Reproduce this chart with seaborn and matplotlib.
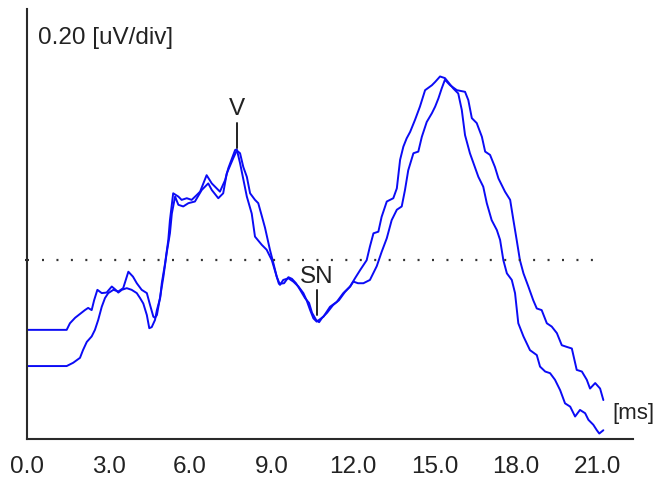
import numpy as np
import pandas as pd
import matplotlib
matplotlib.use("Agg")
import matplotlib.pyplot as plt
import seaborn as sns

# ---- data (time in ms, amplitude in uV) ----
time_a = [0.00, 1.46, 1.58, 1.77, 1.95, 2.13, 2.25, 2.38, 2.47, 2.59, 2.75, 2.93, 3.12, 3.24, 3.36, 3.49,
          3.67, 3.85, 4.04, 4.16, 4.28, 4.41, 4.50, 4.59, 4.71, 4.78, 4.90, 4.96, 5.08, 5.20, 5.26, 5.38,
          5.57, 5.69, 5.88, 6.06, 6.25, 6.37, 6.61, 6.80, 6.92, 7.10, 7.29, 7.41, 7.66, 7.72, 7.84, 8.09,
          8.27, 8.39, 8.64, 8.82, 9.01, 9.19, 9.31, 9.43, 9.62, 9.80, 9.99, 10.17, 10.29, 10.42, 10.54, 10.66,
          10.91, 11.15, 11.40, 11.64, 11.89, 12.07, 12.26, 12.50, 12.62, 12.75, 12.93, 13.05, 13.24, 13.48,
          13.61, 13.73, 13.85, 13.97, 14.10, 14.28, 14.46, 14.65, 14.90, 15.02, 15.20, 15.38, 15.69, 15.87,
          16.00, 16.12, 16.30, 16.43, 16.61, 16.79, 16.92, 17.10, 17.29, 17.41, 17.53, 17.66, 17.84, 17.96,
          18.08, 18.27, 18.51, 18.76, 18.88, 19.07, 19.25, 19.43, 19.62, 19.80, 19.99, 20.17, 20.35, 20.54,
          20.66, 20.84, 20.97, 21.06, 21.21]
amp_a = [0.199, 0.199, 0.211, 0.221, 0.228, 0.235, 0.239, 0.235, 0.253, 0.272, 0.266, 0.267, 0.278, 0.273, 0.267, 0.272,
         0.275, 0.272, 0.266, 0.257, 0.247, 0.226, 0.202, 0.204, 0.217, 0.235, 0.257, 0.284, 0.320, 0.363, 0.399, 0.448,
         0.442, 0.436, 0.439, 0.436, 0.445, 0.451, 0.481, 0.466, 0.460, 0.451, 0.472, 0.494, 0.527, 0.528, 0.503, 0.442,
         0.411, 0.369, 0.354, 0.345, 0.326, 0.296, 0.281, 0.290, 0.293, 0.287, 0.278, 0.266, 0.253, 0.235, 0.220, 0.214,
         0.223, 0.241, 0.250, 0.266, 0.278, 0.293, 0.308, 0.326, 0.351, 0.375, 0.378, 0.405, 0.433, 0.439,
         0.457, 0.509, 0.533, 0.548, 0.560, 0.582, 0.606, 0.636, 0.645, 0.651, 0.661, 0.658, 0.639, 0.630,
         0.600, 0.554, 0.521, 0.503, 0.478, 0.460, 0.430, 0.399, 0.381, 0.363, 0.326, 0.302, 0.290, 0.266,
         0.211, 0.187, 0.162, 0.153, 0.132, 0.123, 0.120, 0.108, 0.089, 0.065, 0.059, 0.041, 0.053, 0.047,
         0.035, 0.026, 0.016, 0.010, 0.016]

time_b = [0.00, 1.46, 1.70, 1.95, 2.06, 2.20, 2.38, 2.50, 2.62, 2.75, 2.87, 2.99, 3.18, 3.36, 3.54, 3.73,
          3.90, 4.04, 4.22, 4.41, 4.53, 4.65, 4.71, 4.78, 4.90, 5.02, 5.14, 5.26, 5.33, 5.45, 5.57, 5.75,
          5.94, 6.18, 6.43, 6.67, 6.80, 7.04, 7.22, 7.35, 7.59, 7.72, 7.84, 7.96, 8.09, 8.21, 8.39, 8.51,
          8.65, 8.76, 8.94, 9.07, 9.19, 9.27, 9.46, 9.62, 9.75, 9.90, 10.05, 10.23, 10.38, 10.49, 10.64, 10.75,
          10.86, 11.04, 11.26, 11.48, 11.70, 11.89, 12.01, 12.18, 12.38, 12.62, 12.87, 13.05, 13.24, 13.42,
          13.61, 13.79, 13.91, 14.03, 14.22, 14.40, 14.53, 14.71, 14.90, 15.02, 15.14, 15.26, 15.38, 15.57,
          15.82, 16.12, 16.24, 16.37, 16.55, 16.74, 16.86, 17.04, 17.22, 17.35, 17.59, 17.78, 17.90, 18.02,
          18.14, 18.27, 18.45, 18.63, 18.76, 18.94, 19.13, 19.31, 19.50, 19.68, 19.86, 20.05, 20.23, 20.42,
          20.60, 20.72, 20.91, 21.09, 21.21]
amp_b = [0.133, 0.133, 0.139, 0.148, 0.162, 0.177, 0.187, 0.199, 0.217, 0.241, 0.257, 0.266, 0.272, 0.269, 0.275, 0.305,
         0.296, 0.284, 0.272, 0.266, 0.244, 0.223, 0.221, 0.226, 0.259, 0.296, 0.339, 0.375, 0.411, 0.442, 0.427, 0.424,
         0.430, 0.433, 0.454, 0.466, 0.454, 0.439, 0.448, 0.484, 0.512, 0.526, 0.521, 0.496, 0.478, 0.448, 0.436, 0.430,
         0.405, 0.385, 0.345, 0.320, 0.296, 0.283, 0.284, 0.295, 0.292, 0.284, 0.272, 0.257, 0.248, 0.230, 0.217, 0.213,
         0.221, 0.230, 0.244, 0.253, 0.268, 0.278, 0.287, 0.284, 0.284, 0.290, 0.315, 0.341, 0.366, 0.399,
         0.418, 0.424, 0.454, 0.490, 0.521, 0.524, 0.551, 0.578, 0.594, 0.606, 0.621, 0.639, 0.655, 0.645,
         0.636, 0.633, 0.618, 0.585, 0.576, 0.551, 0.524, 0.518, 0.496, 0.475, 0.451, 0.436, 0.399, 0.363,
         0.326, 0.302, 0.278, 0.253, 0.238, 0.235, 0.211, 0.205, 0.193, 0.171, 0.168, 0.165, 0.126, 0.123,
         0.108, 0.092, 0.102, 0.092, 0.071]

x_ticks = [0.0, 3.0, 6.0, 9.0, 12.0, 15.0, 18.0, 21.0]
x_tick_labels = ["0.0", "3.0", "6.0", "9.0", "12.0", "15.0", "18.0", "21.0"]
y_ticks = [0.2, 0.4, 0.6]
ref_level = 0.326          # dotted reference line (uV)
ref_span = [0.54, 21.02]   # ms
peak_labels = ["V", "SN"]
peak_times = [7.72, 10.66]
peak_amps = [0.531, 0.226]   # bottom of marker
scale_text = "0.20 [uV/div]"
x_unit = "[ms]"

# ---- plot ----
sns.set_style("white")
plt.rcParams["font.family"] = ["Liberation Sans", "DejaVu Sans"]

fig = plt.figure(figsize=(6.57, 4.86), dpi=100)
ax = fig.add_axes([27 / 657, 47 / 486, (632.7 - 27) / 657, (439 - 9) / 486])

df = pd.concat([
    pd.DataFrame({"t": time_a, "amp": amp_a, "trace": "A"}),
    pd.DataFrame({"t": time_b, "amp": amp_b, "trace": "B"}),
])
sns.lineplot(data=df, x="t", y="amp", hue="trace", units="trace", estimator=None, sort=False,
             palette=["#0b0bf5", "#0b0bf5"], linewidth=1.4, legend=False, ax=ax)

ax.plot(ref_span, [ref_level, ref_level], color="#333333", lw=1.6,
        linestyle=(0, (0.9, 5.6)), solid_capstyle="butt")

ax.set_xlim(0, 22.29)
ax.set_ylim(0, 0.784)
ax.set_xlabel("")
ax.set_ylabel("")

for s in ["top", "right"]:
    ax.spines[s].set_visible(False)
for s in ["left", "bottom"]:
    ax.spines[s].set_color("#2a2a2a")
    ax.spines[s].set_linewidth(1.5)

ax.set_xticks(x_ticks)
ax.set_xticklabels(x_tick_labels)
ax.set_yticks(y_ticks)
ax.set_yticklabels([])
ax.set_yticks([ref_level], minor=True)
ax.tick_params(axis="x", which="major", direction="inout", length=6.5, width=1.5,
               color="#2a2a2a", labelsize=17.5, labelcolor="#222222", pad=9)
ax.tick_params(axis="y", which="major", direction="inout", length=8, width=1.5, color="#2a2a2a")
ax.tick_params(axis="y", which="minor", direction="inout", length=3.5, width=1.5, color="#2a2a2a", left=True)

for lab, t, a in zip(peak_labels, peak_times, peak_amps):
    ax.plot([t, t], [a, a + 0.045], color="#222222", lw=1.4)
    ax.text(t, a + 0.05, lab, ha="center", va="bottom", fontsize=17.5, color="#222222")

ax.text(38 / 657, 1 - 38 / 486, scale_text, transform=fig.transFigure, ha="left", va="center",
        fontsize=17.5, color="#222222")
ax.text(612 / 657, 1 - 413 / 486, x_unit, transform=fig.transFigure, ha="left", va="center",
        fontsize=16, color="#222222")

fig.savefig("out.png", dpi=100)
